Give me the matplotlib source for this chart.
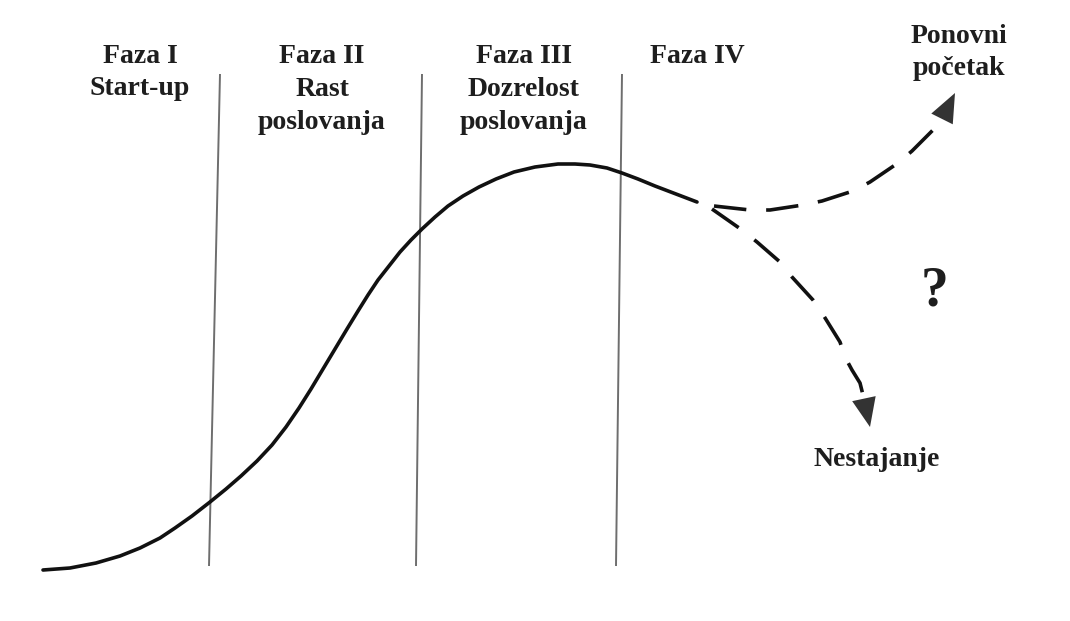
import numpy as np
import matplotlib
matplotlib.use('Agg')
import matplotlib.pyplot as plt

# main life-cycle curve (pixel coords, y downwards)
curve_x = [43, 70, 96, 120, 140, 160, 175, 192, 210, 226, 241, 257, 272, 286,
           299, 311, 323, 335, 347, 358, 368, 378, 389, 400, 411, 422, 435, 448,
           463, 479, 496, 514, 535, 558, 575, 590, 607, 622, 638, 655, 676, 697]
curve_y = [570, 568, 563, 556, 548, 538, 528, 516, 502, 489, 476, 461, 445, 427,
           408, 389, 369, 349, 329, 311, 295, 280, 266, 252, 240, 229, 217, 206,
           196, 187, 179, 172, 167, 164, 164, 165, 168, 173, 179, 186, 194, 202]

# dashed branches after phase IV
up_x = [714, 750, 770, 803, 822, 853, 870, 898, 912, 935, 942]
up_y = [206, 210, 210, 205, 201, 191, 182, 163, 151, 128, 119]
up_tip = (955, 93)
down_x = [712, 742, 757, 780, 792, 813, 822, 840, 845, 852, 860, 864]
down_y = [209, 230, 242, 262, 277, 300, 313, 342, 357, 370, 383, 399]
down_tip = (870, 427)

# phase separators
sep_top_x = [220, 422, 622]
sep_top_y = [74, 74, 74]
sep_bot_x = [209, 416, 616]
sep_bot_y = [566, 566, 566]

# header labels: one entry per text line
head_lines = ['Faza I', 'Start-up',
              'Faza II', 'Rast', 'poslovanja',
              'Faza III', 'Dozrelost', 'poslovanja',
              'Faza IV',
              'Ponovni', 'početak']
head_x = [140, 140, 322, 322, 322, 524, 524, 524, 697, 959, 959]
head_y = [63, 95, 63, 96, 129, 63, 96, 129, 63, 43, 75]

fig = plt.figure(figsize=(10.7, 6.21), dpi=100)
ax = fig.add_axes([0, 0, 1, 1])
ax.set_xlim(0, 1070)
ax.set_ylim(621, 0)
ax.axis('off')

for i in range(len(sep_top_x)):
    ax.plot([sep_top_x[i], sep_bot_x[i]], [sep_top_y[i], sep_bot_y[i]],
            color='#6e6e6e', lw=1.4, solid_capstyle='butt')

ax.plot(curve_x, curve_y, color='#111111', lw=2.6, solid_capstyle='round',
        solid_joinstyle='round')

def branch(xs, ys, tip):
    ax.plot(xs, ys, color='#111111', lw=2.6, dashes=(9, 5.5), dash_capstyle='butt')
    # arrow head
    d = np.array(tip, float) - np.array([xs[-1], ys[-1]], float)
    d = d / np.linalg.norm(d)
    n = np.array([-d[1], d[0]])
    base = np.array(tip) - d * 29
    tri = np.array([tip, base + n * 12, base - n * 12])
    ax.fill(tri[:, 0], tri[:, 1], color='#333333', lw=0)

branch(up_x, up_y, up_tip)
branch(down_x, down_y, down_tip)

font = dict(family='Liberation Serif', fontweight='bold', color='#1e1e1e')
for lab, x, y in zip(head_lines, head_x, head_y):
    ax.text(x, y, lab, ha='center', va='baseline', fontsize=20, **font)

ax.text(877, 466, 'Nestajanje', ha='center', va='baseline', fontsize=20, **font)
ax.text(935, 305, '?', ha='center', va='baseline', fontsize=40, **font)

fig.savefig('out.png', dpi=100, facecolor='white')
